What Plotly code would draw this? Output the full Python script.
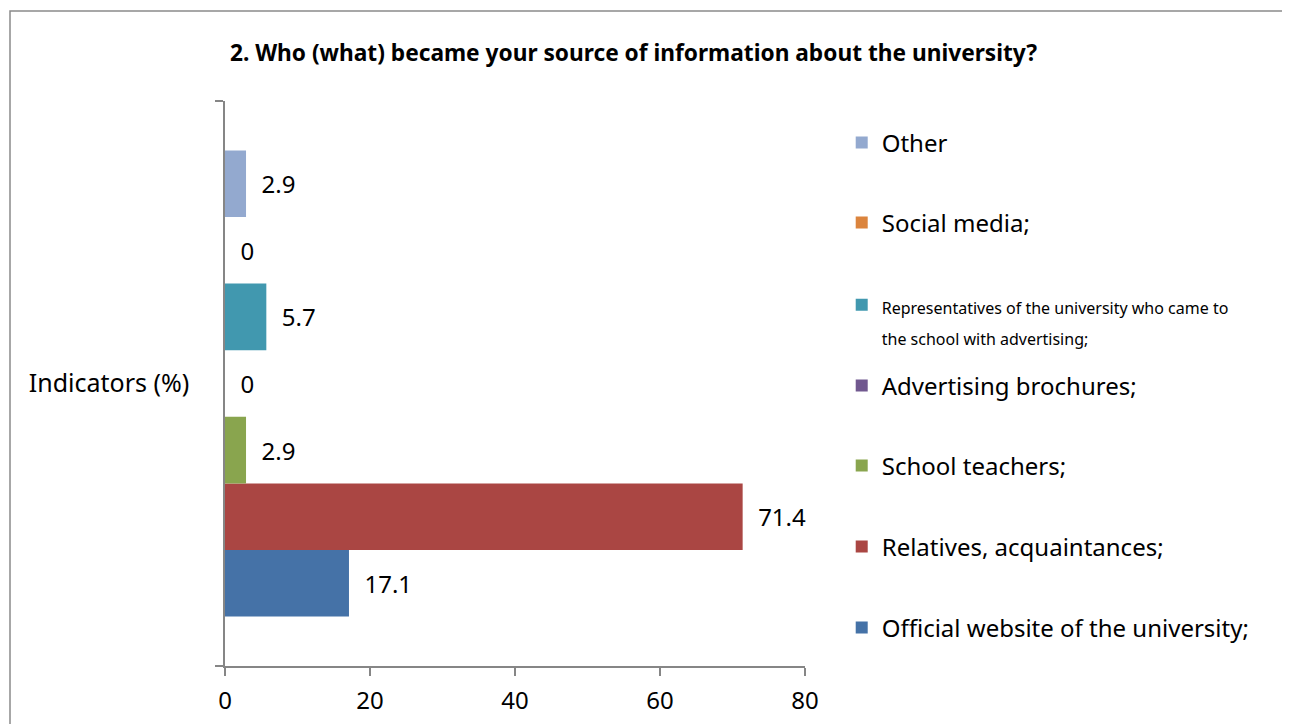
import plotly.graph_objects as go

category = ["Indicators (%)"]
series_names = [
    "Official website of the university;",
    "Relatives, acquaintances;",
    "School teachers;",
    "Advertising brochures;",
    "<span style=\"font-size:16px\">Representatives of the university who came to<br>the school with advertising;</span>",
    "Social media;",
    "Other",
]
series_values = [17.1, 71.4, 2.9, 0, 5.7, 0, 2.9]
series_colors = ["#4572A7", "#AA4643", "#89A54E", "#71588F", "#4198AF", "#DB843D", "#93A9CF"]
legend_y = [0.0673, 0.2106, 0.354, 0.4956, 0.6113, 0.7841, 0.9257]
x_ticks = [0, 20, 40, 60, 80]

FONT = "Noto Sans, Open Sans, sans-serif"
AXIS = "#868686"
OFF = 8  # page body margin

fig = go.Figure()
layout_legends = {}
for i, (name, val, col) in enumerate(zip(series_names, series_values, series_colors)):
    key = "legend" if i == 0 else f"legend{i+1}"
    fig.add_trace(go.Bar(
        y=category, x=[val], name=name, orientation="h",
        marker=dict(color=col, line=dict(width=0)),
        text=[val], texttemplate="\u00a0\u00a0%{x}", textposition="outside",
        textfont=dict(size=24, color="black", family=FONT),
        constraintext="none", cliponaxis=False,
        legend=key,
    ))
    layout_legends[key] = dict(
        x=1.0633, xanchor="left", y=legend_y[i], yanchor="middle",
        font=dict(size=24, family=FONT, color="black"),
        bgcolor="rgba(0,0,0,0)", borderwidth=0,
        valign="top",
    )

fig.update_layout(
    width=1290, height=724,
    margin=dict(l=225 - OFF, r=1290 - (805 - OFF), t=101 - OFF, b=724 - 666 + OFF, autoexpand=False),
    paper_bgcolor="white", plot_bgcolor="white",
    barmode="group", bargap=0.175, bargroupgap=0,
    font=dict(family=FONT, color="black"),
    title=dict(
        text="<b>2. Who (what) became your source of information about the university?</b>",
        x=(633.5 - OFF) / 1290, xanchor="center", y=1 - (53 - OFF) / 724, yanchor="middle",
        xref="container", yref="container",
        font=dict(size=22.7, family=FONT, color="black"),
    ),
    showlegend=True,
    xaxis=dict(
        range=[0, 80], tickvals=x_ticks, ticks="outside", ticklen=8, tickcolor=AXIS,
        tickwidth=1.5, showline=True, linecolor=AXIS, linewidth=1.5, showgrid=False,
        zeroline=False, tickfont=dict(size=24, family=FONT, color="black"),
        ticklabelstandoff=4,
    ),
    yaxis=dict(
        ticks="outside", ticklen=8, tickcolor=AXIS, tickwidth=1.5, tickson="boundaries",
        showline=True, linecolor=AXIS, linewidth=1.5, showgrid=False,
        tickfont=dict(size=25, family=FONT, color="black"),
        ticklabelstandoff=29,
    ),
    shapes=[dict(
        type="rect", xref="paper", yref="paper",
        x0=(10 - 225) / 580, x1=1.95, y0=-0.3, y1=(666 - 11) / 565,
        line=dict(color="#8a8a8a", width=1.5), fillcolor="rgba(0,0,0,0)", layer="below",
    )],
    **layout_legends,
)

fig.write_html("out.html")
